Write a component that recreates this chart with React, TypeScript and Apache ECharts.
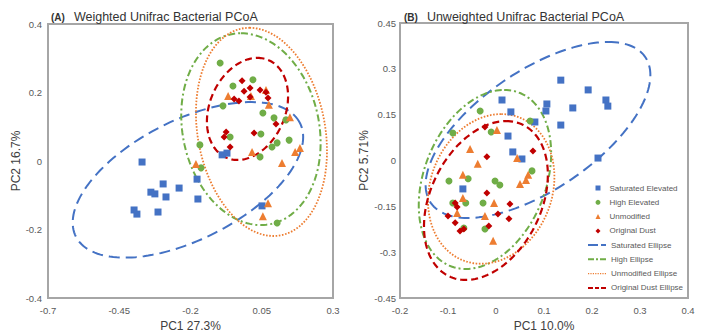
import React, { useEffect, useRef } from 'react';
import * as echarts from 'echarts';

const groupNames = ['Saturated Elevated', 'High Elevated', 'Unmodified', 'Original Dust'];
const ellipseNames = ['Saturated Ellipse', 'High Ellipse', 'Unmodified Ellipse', 'Original Dust Ellipse'];
const groupColors = ['#4472C4', '#70AD47', '#ED7D31', '#C00000'];
const groupSymbols = ['rect', 'circle', 'triangle', 'diamond'];

const xTicksA = [-0.7, -0.45, -0.2, 0.05, 0.3];
const yTicksA = [-0.4, -0.2, 0, 0.2, 0.4];
const xTicksB = [-0.2, -0.1, 0, 0.1, 0.2, 0.3, 0.4];
const yTicksB = [-0.45, -0.3, -0.15, 0, 0.15, 0.3, 0.45];

// Panel A: Weighted Unifrac
const saturatedA = [
  [-0.370, -0.003], [-0.089, 0.018], [-0.072, 0.023], [-0.296, -0.067], [-0.339, -0.091],
  [-0.325, -0.096], [-0.286, -0.105], [-0.240, -0.079], [-0.177, -0.053], [-0.174, -0.111],
  [-0.398, -0.143], [-0.388, -0.155], [-0.314, -0.149], [0.051, -0.131],
];
const highA = [
  [-0.096, 0.286], [-0.051, 0.219], [0.019, 0.237], [-0.086, 0.161], [0.054, 0.140],
  [0.093, 0.126], [0.135, 0.120], [-0.061, 0.070], [0.047, 0.079], [0.104, 0.053],
  [0.086, 0.041], [0.146, 0.061], [-0.167, 0.047], [0.044, 0.012], [-0.163, -0.020],
  [0.104, -0.181],
];
const unmodifiedA = [
  [-0.068, 0.190], [0.012, 0.190], [0.065, 0.207], [0.075, 0.164], [0.149, 0.128],
  [0.016, 0.026], [0.121, -0.006], [0.167, 0.026], [0.184, 0.038], [-0.181, -0.009],
  [0.072, -0.123], [0.054, -0.161],
];
const originalA = [
  [-0.019, 0.234], [0.009, 0.213], [-0.012, 0.204], [-0.047, 0.181], [-0.030, 0.175],
  [0.009, 0.187], [0.044, 0.207], [0.065, 0.201], [0.072, 0.184], [0.100, 0.108],
  [-0.075, 0.085], [-0.082, 0.070], [-0.061, 0.041], [0.023, 0.082],
];

// Panel B: Unweighted Unifrac
const saturatedB = [
  [0.135, 0.263], [0.192, 0.231], [0.229, 0.198], [0.233, 0.178], [0.106, 0.185],
  [0.104, 0.162], [0.160, 0.172], [0.135, 0.116], [0.2125, 0.008], [0.0125, 0.198],
  [0.031, 0.159], [0.081, 0.126], [0.025, 0.080], [0.035, 0.028], [0.054, 0.005],
  [-0.069, -0.093],
];
const highB = [
  [-0.033, 0.162], [-0.090, 0.090], [-0.010, 0.093], [0.071, 0.129], [0.075, -0.034],
  [-0.098, -0.067], [-0.058, -0.060], [-0.002, -0.067], [0.008, -0.080], [-0.090, -0.139],
  [-0.063, -0.139], [-0.027, -0.139], [-0.067, -0.221], [-0.023, -0.224],
];
const unmodifiedB = [
  [0.002, 0.100], [-0.054, 0.038], [-0.038, -0.011], [0.044, 0.008], [-0.069, -0.047],
  [0.050, -0.077], [0.0625, -0.064], [0.067, -0.047], [-0.069, -0.123], [-0.004, -0.139],
  [-0.081, -0.172], [-0.023, -0.182], [-0.006, -0.263],
];
const originalB = [
  [-0.023, 0.110], [-0.019, 0.012], [0.077, 0.031], [-0.019, -0.106], [-0.085, -0.139],
  [-0.081, -0.152], [-0.100, -0.182], [-0.085, -0.204], [-0.075, -0.231], [-0.067, -0.224],
  [-0.015, -0.214], [0.004, -0.175], [0.029, -0.142], [0.027, -0.191],
];

// Ellipses: [centerX, centerY, axis1X, axis1Y, axis2X, axis2Y] (conjugate half-diameters, data units)
const saturatedEllipseA = [-0.209, -0.055, 0.393, 0.166, -0.095, 0.155];
const highEllipseA = [0.012, 0.093, -0.035, 0.280, 0.242, 0];
const unmodifiedEllipseA = [0.049, 0.085, -0.042, 0.304, 0.226, 0];
const originalEllipseA = [0.000, 0.152, 0.035, 0.149, 0.138, 0];

const saturatedEllipseB = [0.0875, 0.100, 0.146, 0.288, 0.183, 0];
const highEllipseB = [-0.023, -0.062, 0.040, 0.293, 0.132, 0];
const unmodifiedEllipseB = [-0.010, -0.093, 0.021, 0.245, 0.130, 0];
const originalEllipseB = [-0.021, -0.131, 0.042, 0.260, 0.122, 0];

const FONT = '"Liberation Sans", Arial, Helvetica, sans-serif';

const ellipseLineStyles = [
  { lineWidth: 2, lineDash: [11, 6] },
  { lineWidth: 2, lineDash: [7, 3, 2, 3] },
  { lineWidth: 1.8, lineDash: [1.6, 1.6] },
  { lineWidth: 2.2, lineDash: [7, 4] },
];

const ellipseIcons = [
  'path://M0,0h10v2h-10zM13,0h5v2h-5z',
  'path://M0,0h6v2h-6zM8,0h2v2h-2zM12,0h6v2h-6z',
  'path://M0,0h1.2v1.2h-1.2zM2.4,0h1.2v1.2h-1.2zM4.8,0h1.2v1.2h-1.2zM7.2,0h1.2v1.2h-1.2zM9.6,0h1.2v1.2h-1.2zM12,0h1.2v1.2h-1.2zM14.4,0h1.2v1.2h-1.2zM16.8,0h1.2v1.2h-1.2z',
  'path://M0,0h5v2h-5zM7,0h4v2h-4zM13,0h5v2h-5z',
];

const STEPS = 160;

function makeEllipseRender(idx: number) {
  return (params: any, api: any) => {
    const cx = api.value(0);
    const cy = api.value(1);
    const ux = api.value(2);
    const uy = api.value(3);
    const vx = api.value(4);
    const vy = api.value(5);
    const pts: number[][] = [];
    for (let i = 0; i <= STEPS; i++) {
      const t = (i / STEPS) * Math.PI * 2;
      pts.push(api.coord([cx + ux * Math.cos(t) + vx * Math.sin(t), cy + uy * Math.cos(t) + vy * Math.sin(t)]));
    }
    return {
      type: 'polyline',
      shape: { points: pts },
      style: {
        fill: 'none',
        stroke: groupColors[idx],
        lineWidth: ellipseLineStyles[idx].lineWidth,
        lineDash: ellipseLineStyles[idx].lineDash,
      },
    };
  };
}

function axisBase(ticks: number[], name: string, nameGap: number, margin: number) {
  return {
    type: 'value',
    min: ticks[0],
    max: ticks[ticks.length - 1],
    interval: Math.round((ticks[1] - ticks[0]) * 1000) / 1000,
    name,
    nameLocation: 'middle',
    nameGap,
    nameTextStyle: { fontSize: 12, color: '#404040', fontFamily: FONT },
    axisLine: { show: false },
    axisTick: { show: false },
    splitLine: { show: false },
    axisLabel: { fontSize: 9.5, color: '#595959', margin, fontFamily: FONT },
  };
}

export default function App() {
  const ref = useRef<HTMLDivElement>(null);

  useEffect(() => {
    if (!ref.current) return;
    const chart = echarts.init(ref.current, undefined, { renderer: 'svg' });

    const pointsA = [saturatedA, highA, unmodifiedA, originalA];
    const pointsB = [saturatedB, highB, unmodifiedB, originalB];
    const ellA = [saturatedEllipseA, highEllipseA, unmodifiedEllipseA, originalEllipseA];
    const ellB = [saturatedEllipseB, highEllipseB, unmodifiedEllipseB, originalEllipseB];

    const series: any[] = [];
    [ellA, ellB].forEach((ells, panel) => {
      ells.forEach((e, i) => {
        series.push({
          type: 'custom',
          name: ellipseNames[i],
          xAxisIndex: panel,
          yAxisIndex: panel,
          renderItem: makeEllipseRender(i),
          itemStyle: { color: groupColors[i] },
          encode: { x: 0, y: 1 },
          data: [e],
          silent: true,
          z: 2,
        });
      });
    });
    [pointsA, pointsB].forEach((pts, panel) => {
      pts.forEach((d, i) => {
        series.push({
          type: 'scatter',
          name: groupNames[i],
          xAxisIndex: panel,
          yAxisIndex: panel,
          symbol: groupSymbols[i],
          symbolSize: i === 2 ? 8 : 7,
          itemStyle: { color: groupColors[i], opacity: 1 },
          data: d,
          z: 3 + i,
        });
      });
    });

    const titleRich = {
      a: { fontSize: 10, fontWeight: 'bold', color: '#333', fontFamily: FONT, padding: [0, 4, 0, 0] },
      b: { fontSize: 12.5, fontWeight: 'normal', color: '#333', fontFamily: FONT },
    };

    const option: any = {
      animation: false,
      textStyle: { fontFamily: FONT },
      title: [
        {
          text: '{a|(A)} {b|Weighted Unifrac Bacterial PCoA}',
          left: 51,
          top: 8,
          padding: 0,
          textStyle: { fontWeight: 'normal', rich: titleRich },
        },
        {
          text: '{a|(B)} {b|Unweighted Unifrac Bacterial PCoA}',
          left: 404,
          top: 8,
          padding: 0,
          textStyle: { fontWeight: 'normal', rich: titleRich },
        },
      ],
      legend: [
        {
          orient: 'vertical',
          left: 595.5,
          top: 183,
          padding: 0,
          itemWidth: 5,
          itemHeight: 5,
          itemGap: 4.3,
          selectedMode: false,
          data: groupNames,
          textStyle: { fontSize: 8, color: '#595959', lineHeight: 10, fontFamily: FONT, padding: [0, 0, 0, 4] },
        },
        {
          orient: 'vertical',
          left: 588,
          top: 240,
          padding: 0,
          itemWidth: 18,
          itemHeight: 2,
          itemGap: 4.3,
          selectedMode: false,
          data: ellipseNames.map((n, i) => ({ name: n, icon: ellipseIcons[i] })),
          textStyle: { fontSize: 8, color: '#595959', lineHeight: 10, fontFamily: FONT, padding: [0, 0, 0, 0] },
        },
      ],
      grid: [
        { left: 48, top: 24, width: 285, height: 274, show: true, borderColor: '#a6a6a6', borderWidth: 2, backgroundColor: 'transparent', containLabel: false, outerBoundsMode: 'none' },
        { left: 400, top: 23, width: 288, height: 275, show: true, borderColor: '#a6a6a6', borderWidth: 2, backgroundColor: 'transparent', containLabel: false, outerBoundsMode: 'none' },
      ],
      xAxis: [
        { ...axisBase(xTicksA, 'PC1 27.3%', 22, 7), gridIndex: 0 },
        { ...axisBase(xTicksB, 'PC1 10.0%', 22, 7), gridIndex: 1 },
      ],
      yAxis: [
        { ...axisBase(yTicksA, 'PC2 16.7%', 24, 6), gridIndex: 0 },
        { ...axisBase(yTicksB, 'PC2 5.71%', 26, 4), gridIndex: 1 },
      ],
      series,
    };

    chart.setOption(option);
    return () => chart.dispose();
  }, []);

  return <div ref={ref} style={{ position: 'fixed', left: 0, top: 0, width: 705, height: 332, background: '#fff' }} />;
}
